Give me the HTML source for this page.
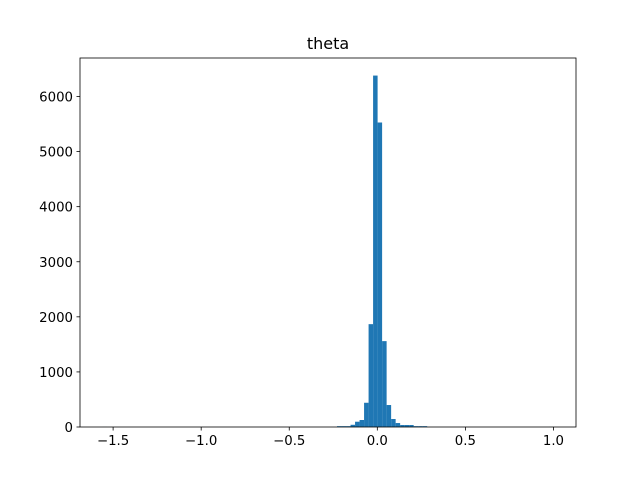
<!DOCTYPE html>
<html><head><meta charset="utf-8"><style>
body{margin:0;background:#fff}
text{font-family:"DejaVu Sans","Liberation Sans",sans-serif;font-size:13.3px;fill:#000}
</style></head><body>
<svg id="chart" width="640" height="480" xmlns="http://www.w3.org/2000/svg">
<rect width="640" height="480" fill="#fff"/>
<text x="328" y="49" text-anchor="middle" font-size="16" style="font-size:16px">theta</text>
<g id="bars"></g>
<g id="axes"></g>
</svg>
<script>
const binStart = -1.56;
const binEnd = 1.0;
const binCount = 100;
const binCounts = new Array(100).fill(0);
const nonZeroBins = [0,52,53,54,55,56,57,58,59,60,61,62,63,64,65,66,67,68,69,70,71,99];
const nonZeroValues = [1,15,15,15,40,96,127,440,1867,6380,5528,1559,399,145,72,36,36,36,15,15,15,1];
const xTicks = [-1.5,-1.0,-0.5,0.0,0.5,1.0];
const xTickLabels = ["\u22121.5","\u22121.0","\u22120.5","0.0","0.5","1.0"];
const yTicks = [0,1000,2000,3000,4000,5000,6000];
const yTickLabels = ["0","1000","2000","3000","4000","5000","6000"];

nonZeroBins.forEach((b,i)=>{binCounts[b]=nonZeroValues[i];});
const L=80,R=576,T=58,B=427;
const span=binEnd-binStart, xmin=binStart-0.05*span, xmax=binEnd+0.05*span;
const ymax=Math.max(...binCounts)*1.05;
const xs=v=>L+(v-xmin)/(xmax-xmin)*(R-L);
const ys=v=>B-v/ymax*(B-T);
const NS="http://www.w3.org/2000/svg";
const bars=document.getElementById('bars'), axes=document.getElementById('axes');
const w=span/binCount;
binCounts.forEach((c,i)=>{
  if(c<=0)return;
  const r=document.createElementNS(NS,'rect');
  const x0=xs(binStart+i*w), x1=xs(binStart+(i+1)*w);
  r.setAttribute('x',x0);r.setAttribute('width',x1-x0);
  r.setAttribute('y',ys(c));r.setAttribute('height',B-ys(c));
  r.setAttribute('fill','#1f77b4');
  
  
  bars.appendChild(r);
});
const frame=document.createElementNS(NS,'rect');
frame.setAttribute('x',L);frame.setAttribute('y',T);frame.setAttribute('width',R-L);frame.setAttribute('height',B-T);
frame.setAttribute('fill','none');frame.setAttribute('stroke','#000');frame.setAttribute('stroke-width','0.8');


axes.appendChild(frame);
xTicks.forEach((v,i)=>{
  const x=xs(v);
  const l=document.createElementNS(NS,'line');
  l.setAttribute('x1',x);l.setAttribute('x2',x);l.setAttribute('y1',B);l.setAttribute('y2',B+3.5);
  l.setAttribute('stroke','#000');l.setAttribute('stroke-width','0.8');
  
  
  axes.appendChild(l);
  const t=document.createElementNS(NS,'text');
  t.setAttribute('x',x);t.setAttribute('y',B+18);t.setAttribute('text-anchor','middle');
  t.textContent=xTickLabels[i];
  
  
  axes.appendChild(t);
});
yTicks.forEach((v,i)=>{
  const y=ys(v);
  const l=document.createElementNS(NS,'line');
  l.setAttribute('x1',L-3.5);l.setAttribute('x2',L);l.setAttribute('y1',y);l.setAttribute('y2',y);
  l.setAttribute('stroke','#000');l.setAttribute('stroke-width','0.8');
  
  
  axes.appendChild(l);
  const t=document.createElementNS(NS,'text');
  t.setAttribute('x',L-7);t.setAttribute('y',y+5);t.setAttribute('text-anchor','end');
  t.textContent=yTickLabels[i];
  
  
  axes.appendChild(t);
});
</script>
</body></html>
